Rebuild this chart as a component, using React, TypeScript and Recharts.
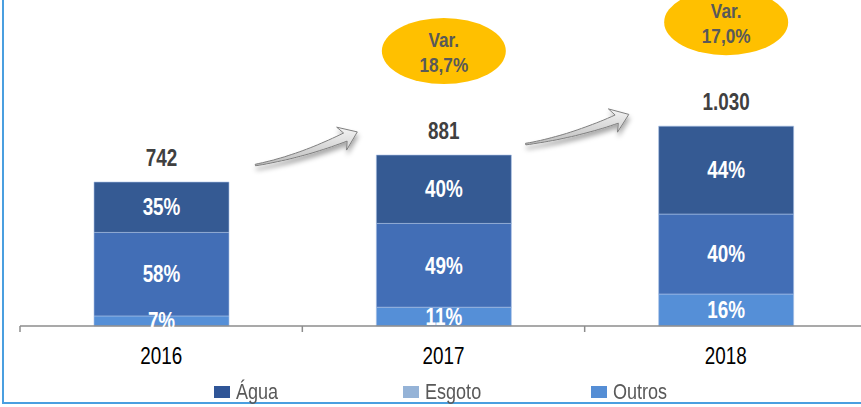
import { Bar, BarChart, LabelList, XAxis, YAxis } from "recharts";

const years = ["2016", "2017", "2018"];
const totals = [742, 881, 1030];
const aguaShare = [35, 40, 44];
const esgotoShare = [58, 49, 40];
const outrosShare = [7, 11, 16];
const variation = ["", "18,7%", "17,0%"];
const legendNames = ["Água", "Esgoto", "Outros"];
const legendColors = ["#2F5597", "#95B3D7", "#558ED5"];

// no Arial Narrow here: Liberation Sans squeezed horizontally instead
const font = '"Liberation Sans", Arial, sans-serif';
const SQUEEZE = 0.82;

const chartData = years.map((year, i) => ({
  year,
  pos: i + 0.5,
  total: totals[i],
  variation: variation[i],
  outros: (totals[i] * outrosShare[i]) / 100,
  esgoto: (totals[i] * esgotoShare[i]) / 100,
  agua: (totals[i] * aguaShare[i]) / 100,
  outrosPct: outrosShare[i],
  esgotoPct: esgotoShare[i],
  aguaPct: aguaShare[i],
}));

const NarrowText = ({ x, y, size, bold, fill, children }: any) => (
  <text
    transform={`translate(${x},${y}) scale(${SQUEEZE},1)`}
    textAnchor="middle"
    fill={fill}
    fontFamily={font}
    fontWeight={bold ? "bold" : "normal"}
    fontSize={size}
  >
    {children}
  </text>
);

// arrow geometry relative to the left/top corner of the bar it points to
const arrowShape: Record<number, { tail: number[]; ctrl: number[]; base: number[] }> = {
  1: { tail: [-121, 10], ctrl: [-77, 2], base: [-31, -18] },
  2: { tail: [-133, 18], ctrl: [-88, 11], base: [-42, -7] },
};

const arrowPath = (x: number, y: number, s: { tail: number[]; ctrl: number[]; base: number[] }) => {
  const p0 = [x + s.tail[0], y + s.tail[1]];
  const p1 = [x + s.ctrl[0], y + s.ctrl[1]];
  const p2 = [x + s.base[0], y + s.base[1]];
  const left: number[][] = [];
  const right: number[][] = [];
  const n = 24;
  let tx = 0;
  let ty = 0;
  for (let k = 0; k <= n; k++) {
    const t = k / n;
    const bx = (1 - t) * (1 - t) * p0[0] + 2 * (1 - t) * t * p1[0] + t * t * p2[0];
    const by = (1 - t) * (1 - t) * p0[1] + 2 * (1 - t) * t * p1[1] + t * t * p2[1];
    const dx = 2 * (1 - t) * (p1[0] - p0[0]) + 2 * t * (p2[0] - p1[0]);
    const dy = 2 * (1 - t) * (p1[1] - p0[1]) + 2 * t * (p2[1] - p1[1]);
    const len = Math.hypot(dx, dy);
    tx = dx / len;
    ty = dy / len;
    const hw = 0.8 + 3.6 * Math.pow(t, 1.3);
    left.push([bx - ty * hw, by + tx * hw]);
    right.push([bx + ty * hw, by - tx * hw]);
  }
  const nx = -ty;
  const ny = tx;
  const barbA = [p2[0] - nx * 12.5 - tx * 4, p2[1] - ny * 12.5 - ty * 4];
  const barbB = [p2[0] + nx * 12.5 - tx * 4, p2[1] + ny * 12.5 - ty * 4];
  const tip = [p2[0] + tx * 13, p2[1] + ty * 13];
  const pts = [...left, barbB, tip, barbA, ...right.reverse()];
  return "M" + pts.map((p) => `${p[0].toFixed(1)},${p[1].toFixed(1)}`).join("L") + "Z";
};

const TopDecor = (props: any) => {
  const x = Number(props.x);
  const y = Number(props.y);
  const w = Number(props.width);
  const i = props.index as number;
  const row = chartData[i];
  const cx = x + w / 2;
  const ey = y - 104;
  return (
    <g>
      <NarrowText x={cx} y={y - 16} size={23} bold fill="#404040">
        {row.total.toLocaleString("pt-BR")}
      </NarrowText>
      {row.variation && (
        <g>
          <defs>
            <linearGradient id={`arrowFill${i}`} x1="0" y1="0" x2="0" y2="1">
              <stop offset="0%" stopColor="#f4f4f4" />
              <stop offset="100%" stopColor="#bdbdbd" />
            </linearGradient>
            <filter id={`arrowShadow${i}`} x="-20%" y="-40%" width="140%" height="200%">
              <feDropShadow dx="1" dy="4" stdDeviation="2.5" floodColor="#000" floodOpacity="0.35" />
            </filter>
          </defs>
          <path
            d={arrowPath(x, y, arrowShape[i])}
            fill={`url(#arrowFill${i})`}
            stroke="#7f7f7f"
            strokeWidth={1}
            filter={`url(#arrowShadow${i})`}
          />
          <ellipse cx={cx} cy={ey} rx={62} ry={33} fill="#FFC000" />
          <NarrowText x={cx} y={ey - 4} size={21} bold fill="#595959">
            Var.
          </NarrowText>
          <NarrowText x={cx} y={ey + 20.5} size={21} bold fill="#595959">
            {row.variation}
          </NarrowText>
        </g>
      )}
    </g>
  );
};

const PctLabel = (props: any) => {
  const cx = Number(props.x) + Number(props.width) / 2;
  const cy = Number(props.y) + Number(props.height) / 2;
  return (
    <NarrowText x={cx} y={cy + 8.2} size={23} bold fill="#ffffff">
      {`${props.value}%`}
    </NarrowText>
  );
};

const YearTick = (props: any) => (
  <NarrowText x={props.x} y={props.y + 17} size={23} fill="#000000">
    {props.payload.value}
  </NarrowText>
);

export default function App() {
  return (
    <div style={{ position: "absolute", left: 0, top: 0, width: 861, height: 407, background: "#fff", overflow: "hidden" }}>
      <div
        style={{
          position: "absolute",
          left: 2,
          top: 0,
          width: 861,
          height: 404,
          borderLeft: "2px solid #4a9fe0",
          borderBottom: "2px solid #4a9fe0",
          boxSizing: "border-box",
        }}
      />
      <BarChart
        width={861}
        height={407}
        data={chartData}
        margin={{ top: 0, right: -6, left: 20, bottom: 40 }}
        style={{ position: "absolute", left: 0, top: 0 }}
      >
        <XAxis
          xAxisId="a"
          type="number"
          dataKey="pos"
          domain={[0, 3]}
          ticks={[0, 1, 2, 3]}
          allowDataOverflow
          height={1}
          tickFormatter={() => ""}
          tickSize={6}
          axisLine={{ stroke: "#8c8c8c", strokeWidth: 1.5 }}
          tickLine={{ stroke: "#8c8c8c", strokeWidth: 1.5 }}
        />
        <XAxis
          xAxisId="z"
          dataKey="year"
          height={40}
          axisLine={false}
          tickLine={false}
          tickMargin={14}
          tick={YearTick}
        />
        <YAxis hide domain={[0, 1680]} />
        <Bar dataKey="outros" stackId="a" xAxisId="z" barSize={135} fill="#558FD7" stroke="#a9c1e6" strokeWidth={0.6} isAnimationActive={false}>
          <LabelList dataKey="outrosPct" content={PctLabel} />
        </Bar>
        <Bar dataKey="esgoto" stackId="a" xAxisId="z" barSize={135} fill="#426EB6" stroke="#a9c1e6" strokeWidth={0.6} isAnimationActive={false}>
          <LabelList dataKey="esgotoPct" content={PctLabel} />
        </Bar>
        <Bar dataKey="agua" stackId="a" xAxisId="z" barSize={135} fill="#355A93" stroke="#a9c1e6" strokeWidth={0.6} isAnimationActive={false}>
          <LabelList dataKey="aguaPct" content={PctLabel} />
          <LabelList dataKey="total" content={TopDecor} />
        </Bar>
      </BarChart>
      {legendNames.map((name, i) => (
        <div
          key={name}
          style={{
            position: "absolute",
            left: 214 + i * 188.5,
            top: 380,
            height: 24,
            display: "flex",
            alignItems: "center",
            fontFamily: font,
            fontSize: 22,
            color: "#595959",
          }}
        >
          <span style={{ display: "inline-block", width: 16, height: 12, background: legendColors[i], marginRight: 6 }} />
          <span style={{ display: "inline-block", transform: `scaleX(${SQUEEZE})`, transformOrigin: "left center" }}>{name}</span>
        </div>
      ))}
    </div>
  );
}
